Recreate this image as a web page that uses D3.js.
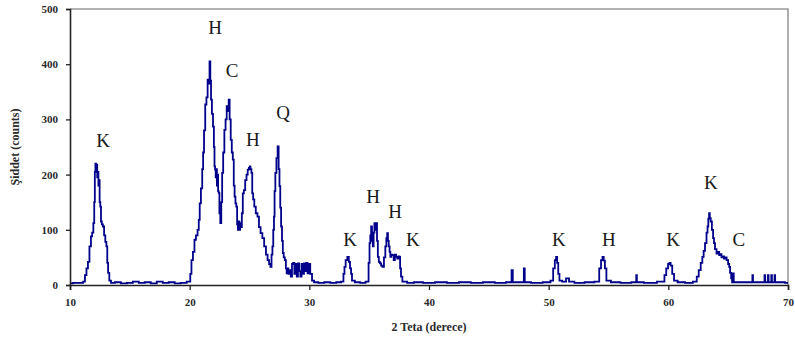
<!DOCTYPE html>
<html><head><meta charset="utf-8">
<script src="https://cdn.jsdelivr.net/npm/d3@7"></script>
<style>
body{margin:0;background:#fff}
text{font-family:"Liberation Serif","Times New Roman",serif}
</style>
</head><body>
<svg id="chart" width="795" height="349"></svg>
<script>
// XRD scan: [2θ (degree), intensity (counts)]
const scan = [
 [10.0,3],[10.5,4],[11.0,4],[11.2,6],
 [11.3,18],[11.45,30],[11.55,42],[11.7,70],[11.8,88],[11.9,95],[12.0,112],[12.05,150],[12.1,205],[12.15,220],
 [12.2,210],[12.25,218],[12.3,195],[12.35,205],[12.4,180],[12.45,190],[12.5,150],[12.56,142],[12.62,115],
 [12.7,110],[12.8,106],[12.9,90],[13.0,78],[13.08,70],[13.15,40],[13.22,22],[13.35,8],[13.5,4],
 [14,5],[14.5,3],[15,4],[15.5,6],[16,4],[16.5,5],[17,3],[17.5,6],[18,4],[18.5,5],[19,3],[19.5,4],[20.0,6],
 [20.1,20],[20.2,45],[20.35,60],[20.45,82],[20.6,90],[20.72,100],[20.8,118],[20.88,148],[21.0,175],[21.1,210],
 [21.15,240],[21.25,280],[21.35,327],[21.45,340],[21.55,372],[21.62,365],[21.7,405],[21.75,370],[21.82,336],
 [21.9,310],[22.0,287],[22.05,250],[22.1,215],[22.15,209],[22.2,195],[22.25,210],[22.3,180],[22.35,200],
 [22.4,170],[22.45,167],[22.52,130],[22.6,112],[22.68,150],[22.75,203],[22.85,240],[22.95,281],[23.05,300],
 [23.14,324],[23.22,315],[23.3,336],[23.38,300],[23.48,263],[23.56,240],[23.65,227],[23.72,180],[23.79,160],
 [23.86,148],[23.93,142],[24.0,110],[24.06,100],[24.12,115],[24.18,100],[24.25,112],[24.32,105],[24.4,130],
 [24.48,166],[24.58,172],[24.7,190],[24.8,200],[24.9,209],[25.0,212],[25.04,215],[25.12,210],[25.2,203],
 [25.26,166],[25.35,155],[25.45,142],[25.6,130],[25.73,124],[25.85,105],[26.0,94],[26.15,85],[26.3,70],
 [26.45,55],[26.57,45],[26.7,38],[26.8,33],[26.88,55],[26.95,70],[27.02,100],[27.07,124],[27.12,170],
 [27.2,203],[27.3,230],[27.4,251],[27.47,210],[27.54,179],[27.6,140],[27.68,106],[27.75,80],[27.82,58],
 [27.9,50],[28.0,45],[28.08,30],[28.13,21],[28.2,30],[28.3,20],[28.4,27],[28.5,15],[28.6,38],[28.7,40],
 [28.8,20],[28.9,38],[29.0,15],[29.1,39],[29.2,25],[29.3,15],[29.4,38],[29.5,20],[29.6,39],[29.7,25],
 [29.8,40],[29.9,21],[30.0,38],[30.15,20],[30.3,8],
 [30.5,5],[31,4],[31.5,5],[32,4],[32.5,5],[32.8,6],[32.9,20],[32.97,33],[33.1,45],[33.25,51],[33.35,42],
 [33.45,30],[33.53,20],[33.6,8],[34,5],[34.5,4],[34.9,6],
 [35.0,40],[35.06,76],[35.13,90],[35.2,106],[35.27,80],[35.34,70],[35.4,95],[35.48,112],[35.55,100],
 [35.62,112],[35.69,80],[35.76,51],[35.85,42],[35.95,39],[36.05,35],[36.17,33],[36.3,50],[36.4,70],
 [36.47,85],[36.54,94],[36.6,80],[36.67,70],[36.74,60],[36.8,51],[36.9,55],[37.0,54],[37.1,45],[37.2,55],
 [37.3,51],[37.4,48],[37.5,52],[37.55,51],[37.62,30],[37.7,15],[37.85,6],
 [38.5,4],[39,5],[40,4],[41,5],[42,4],[43,5],[44,4],[45,5],[46,4],[46.85,5],[46.95,27],[47.05,5],
 [47.9,5],[47.95,30],[48.05,5],[49,4],[50,5],
 [50.3,8],[50.45,30],[50.58,45],[50.66,51],[50.75,40],[50.85,20],[50.95,8],[51.3,6],[51.6,12],[51.8,6],
 [52.5,4],[53.5,5],[54.15,6],[54.3,30],[54.45,45],[54.55,51],[54.65,44],[54.75,30],[54.9,8],[55.5,5],
 [56.5,4],[57.3,5],[57.34,18],[57.4,5],[58.5,4],
 [59.6,6],[59.75,18],[59.9,30],[60.05,38],[60.13,40],[60.25,35],[60.4,20],[60.55,8],[61,5],[61.8,4],
 [62.3,6],[62.45,15],[62.63,27],[62.78,40],[62.9,51],[63.0,62],[63.13,76],[63.25,95],[63.3,106],[63.38,120],
 [63.43,130],[63.5,121],[63.58,115],[63.7,100],[63.78,85],[63.85,76],[63.95,65],[64.1,57],[64.2,60],
 [64.3,54],[64.38,56],[64.5,50],[64.6,52],[64.7,48],[64.8,50],[64.94,45],[65.05,38],[65.12,33],[65.2,22],
 [65.3,12],[65.36,5],[65.43,21],[65.5,5],[66.5,5],[67.0,5],[67.05,18],[67.1,5],[68.0,5],[68.07,18],
 [68.12,5],[68.3,5],[68.35,18],[68.4,5],[68.58,5],[68.63,18],[68.68,5],[68.85,5],[68.9,18],[68.95,5],
 [69.5,5],[70.0,4]
];

const xTicks = [10,20,30,40,50,60,70];
const yTicks = [0,100,200,300,400,500];

// Phase labels above the reflections (K, H, C, Q) and their positions in data units
const phaseNames = ["K","H","C","H","Q","K","H","H","K","K","H","K","K","C"];
const phaseX     = [12.76,22.12,23.54,25.29,27.8,33.4,35.32,37.16,38.66,50.86,55.04,60.39,63.56,65.9];
const phaseY     = [261,466,389,263,312,82,161,134,82,82,82,82,185,82];

const xTitle = "2 Teta (derece)";
const yTitle = "Şiddet (counts)";

const W = 795, H = 349;
const m = {top: 9, right: 7, bottom: 64, left: 70};
const svg = d3.select("#chart");

const x = d3.scaleLinear().domain([10,70]).range([m.left, W - m.right]);
const y = d3.scaleLinear().domain([0,500]).range([H - m.bottom, m.top]);

// plot frame: grey top and right edges
svg.append("path")
  .attr("d", `M${x(10)},${y(500)}H${x(70)}V${y(0)}`)
  .attr("fill","none").attr("stroke","#9a9a9a").attr("stroke-width",1.6);

// intensity trace, drawn as counting steps
const line = d3.line().curve(d3.curveStep).x(d => x(d[0])).y(d => y(d[1]));
svg.append("path")
  .datum(scan)
  .attr("d", line)
  .attr("fill","none")
  .attr("stroke","#00008b")
  .attr("stroke-width",1.8)
  .attr("stroke-linejoin","miter");

// axes
const xAxis = svg.append("g")
  .attr("transform", `translate(0,${y(0)})`)
  .call(d3.axisBottom(x).tickValues(xTicks).tickFormat(d3.format("d")).tickSize(5).tickPadding(8));
const yAxis = svg.append("g")
  .attr("transform", `translate(${x(10)},0)`)
  .call(d3.axisLeft(y).tickValues(yTicks).tickFormat(d3.format("d")).tickSize(4).tickPadding(8));

[xAxis, yAxis].forEach(g => {
  g.select(".domain").attr("stroke","#222").attr("stroke-width",1.6);
  g.selectAll(".tick line").attr("stroke","#222").attr("stroke-width",1.3);
  g.selectAll(".tick text")
    .attr("fill","#2a2a2a")
    .style("font-family",'"Liberation Serif","Times New Roman",serif')
    .style("font-size","11px")
    .style("font-weight","bold");
});

// axis titles
svg.append("text")
  .attr("x", (x(10)+x(70))/2).attr("y", 331)
  .attr("text-anchor","middle")
  .attr("fill","#2a2a2a")
  .style("font-size","12px").style("font-weight","bold")
  .text(xTitle);

svg.append("text")
  .attr("transform", `translate(19,${(y(0)+y(500))/2}) rotate(-90)`)
  .attr("text-anchor","middle")
  .attr("fill","#2a2a2a")
  .style("font-size","12px").style("font-weight","bold")
  .text(yTitle);

// phase labels
svg.append("g").selectAll("text")
  .data(phaseNames)
  .join("text")
  .attr("x", (d,i) => x(phaseX[i]))
  .attr("y", (d,i) => y(phaseY[i]))
  .attr("text-anchor","middle")
  .attr("dominant-baseline","central")
  .attr("fill","#1a1a1a")
  .style("font-size","19px")
  .text(d => d);
</script>
</body></html>
